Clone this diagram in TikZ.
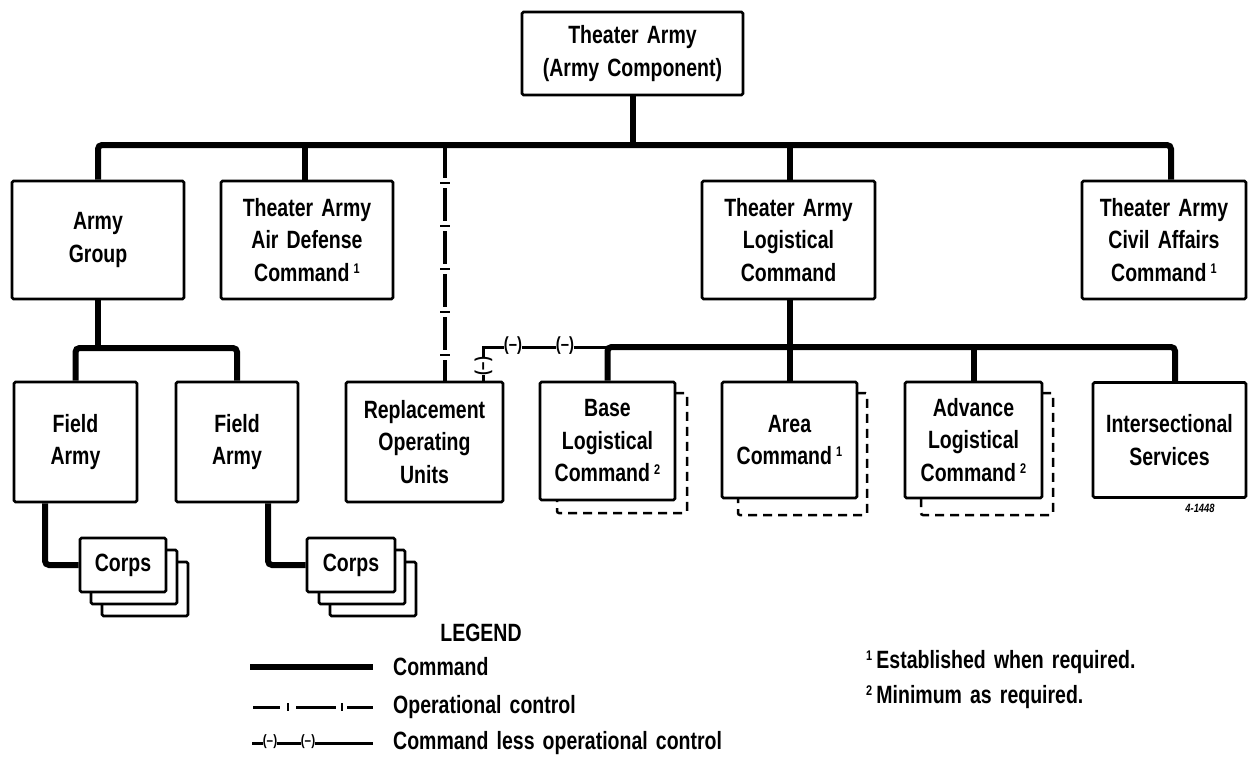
\documentclass[tikz,border=0pt]{standalone}
\usepackage{fontspec}
\newfontfamily\chartfont{Liberation Sans}[FakeStretch=0.78,WordSpace=1.5]
\usetikzlibrary{calc,decorations.markings}
\newcommand\fnmark[1]{\raisebox{0.6ex}{\fontsize{14}{14}\selectfont #1}}
\begin{document}
\begin{tikzpicture}[x=1pt,y=-1pt,
  every node/.style={font=\chartfont\bfseries\fontsize{25}{32.5}\selectfont, text=black},
  box/.style={draw, line width=2.6pt, rounded corners=1.5pt, align=center, inner sep=0pt, fill=white},
  lvl/.style={box, minimum height=118pt},
  corpsbox/.style={box, minimum width=86pt, minimum height=54pt},
  cmd/.style={line width=6pt, rounded corners=4pt},
  shadowd/.style={line width=2.5pt, dash pattern=on 9pt off 6pt, rounded corners=2pt},
  opctrl/.style={line width=3.5pt, dash pattern=on 33pt off 10pt,
     postaction={decorate, decoration={markings,
       mark=between positions 38pt and 1 step 43pt with {\draw[solid, line width=2.5pt] (0pt,-5pt) -- (0pt,5pt);}}}},
  cloc/.style={line width=3pt},
  paren/.style={fill=white, inner sep=0.3pt, font=\chartfont\bfseries\fontsize{19}{19}\selectfont},
  lparen/.style={fill=white, inner sep=0.3pt, font=\chartfont\bfseries\fontsize{15}{15}\selectfont},
  tick/.style={line width=2pt},
  txt/.style={anchor=west, inner sep=0pt}
]
\fill[white] (0,0) rectangle (1248,758);
\useasboundingbox (0,0) rectangle (1248,758);

% top
\node[box, minimum width=221pt, minimum height=83pt] (ta) at (632.5,53.5) {Theater Army\\(Army Component)};

% level 2
\node[lvl, minimum width=172pt] (ag) at (98,240) {Army\\Group};
\node[lvl, minimum width=172pt] (ad) at (307,240) {Theater Army\\Air Defense\\Command\,\fnmark{1}};
\node[lvl, minimum width=173pt] (lc) at (788.5,240) {Theater Army\\Logistical\\Command};
\node[lvl, minimum width=164pt] (ca) at (1164,240) {Theater Army\\Civil Affairs\\Command\,\fnmark{1}};

% level 3
\node[box, minimum width=123pt, minimum height=120pt] (fa1) at (75.5,442) {Field\\Army};
\node[box, minimum width=122pt, minimum height=120pt] (fa2) at (237,442) {Field\\Army};
\node[box, minimum width=157pt, minimum height=120pt] (rep) at (424.5,442) {Replacement\\Operating\\Units};

\draw[shadowd] (675,393) -| (687,513) -| (557,500);
\draw[shadowd] (857,393) -| (867,515) -| (738,498);
\draw[shadowd] (1042,393) -| (1053,515) -| (921,498);
\node[box, minimum width=135pt, minimum height=118pt] (base) at (607.5,441) {Base\\Logistical\\Command\,\fnmark{2}};
\node[box, minimum width=135pt, minimum height=116pt] (area) at (789.5,440) {Area\\Command\,\fnmark{1}};
\node[box, minimum width=137pt, minimum height=116pt] (adv) at (973.5,440) {Advance\\Logistical\\Command\,\fnmark{2}};
\node[box, minimum width=153pt, minimum height=115pt] (isv) at (1169.5,440) {Intersectional\\Services};

% corps stacks
\node[corpsbox] (c1c) at (145,589) {};
\node[corpsbox] (c1b) at (134,577) {};
\node[corpsbox] (c1a) at (123,565) {Corps};
\node[corpsbox] (c2c) at (373,589) {};
\node[corpsbox] (c2b) at (362,577) {};
\node[corpsbox, minimum width=88pt] (c2a) at (351,565) {Corps};

% command connectors
\coordinate (bus) at (632.5,145);
\draw[cmd] (ag.north) |- (bus) -| ($(ca.north)+(7,0)$);
\draw[cmd] (ta.south) -- (ta.south |- bus);
\draw[cmd] ($(ad.north)+(-2,0)$) -- ($(ad.north |- bus)+(-2,0)$);
\draw[cmd] ($(lc.north)+(1.5,0)$) -- ($(lc.north |- bus)+(1.5,0)$);

\coordinate (agbus) at (98,348);
\draw[cmd] (ag.south) -- (agbus);
\draw[cmd] (fa1.north) |- (agbus) -| (fa2.north);
\draw[cmd] ($(fa1.south)+(-30.5,0)$) |- (c1a.west);
\draw[cmd] ($(fa2.south)+(31,0)$) |- (c2a.west);

\coordinate (lbus) at (790,347);
\draw[cmd] ($(lc.south)+(1.5,0)$) -- (lbus);
\draw[cmd] (base.north) |- (lbus) -| ($(isv.north)+(5.5,0)$);
\draw[cmd] (area.north) -- (area.north |- lbus);
\draw[cmd] (adv.north) -- (adv.north |- lbus);

% operational control
\coordinate (opc) at (445,145);
\draw[opctrl] (opc) -- (opc |- rep.north);

% command less operational control
\draw[cloc] ($(rep.north)+(58.5,0)$) |- (base.north |- lbus);
\node[paren, rotate=90] (p0) at (483.5,366) {(–)};
\node[paren] (p1) at (513,346) {(–)};
\node[paren] (p2) at (565,346) {(–)};

% legend
\node (legend) at (481,633) {LEGEND};
\coordinate (l1a) at (250,667); \coordinate (l1b) at (373,667);
\draw[line width=6pt] (l1a) -- (l1b);
\node[txt] (lt1) at (393,667) {Command};

\coordinate (l2a) at (253,707);
\draw[line width=3pt] (l2a) -- ++(27,0) ++(16,0) -- ++(40,0) ++(11,0) -- ++(26,0);
\draw[tick] (288,703) -- (288,711) (342,703) -- (342,711);
\node[txt] (lt2) at (393,707) {Operational control};

\coordinate (l3a) at (252,743); \coordinate (l3b) at (373,743);
\draw[line width=3pt] (l3a) -- (l3b);
\node[lparen] (lp1) at (270,742) {(–)};
\node[lparen] (lp2) at (308,742) {(–)};
\node[txt] (lt3) at (393,743) {Command less operational control};

% footnotes
\node[txt] (fn1) at (866,662) {\fnmark{1}\,Established when required.};
\node[txt] (fn2) at (866,697) {\fnmark{2}\,Minimum as required.};

\node[font=\chartfont\bfseries\itshape\fontsize{12}{12}\selectfont] (fig) at (1200,508) {4-1448};
\end{tikzpicture}
\end{document}
